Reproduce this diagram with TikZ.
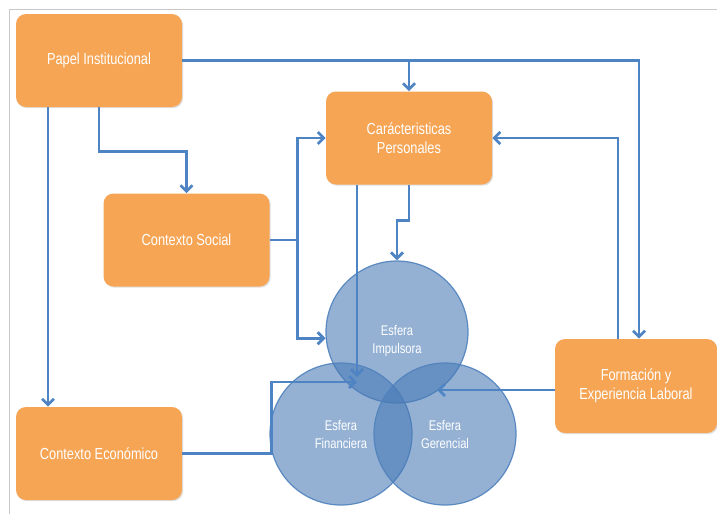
\documentclass[tikz,border=0pt]{standalone}
\usepackage{fontspec}
\setmainfont{Liberation Sans}[FakeStretch=0.8]
\usetikzlibrary{arrows.meta,calc,shadows}
\definecolor{boxorange}{RGB}{246,165,85}
\definecolor{linkblue}{RGB}{79,132,196}
\definecolor{spherefill}{RGB}{72,122,182}
\definecolor{spheredraw}{RGB}{80,130,190}
\definecolor{framegray}{RGB}{200,200,200}

\begin{document}
\begin{tikzpicture}[x=0.75pt,y=-0.75pt,
  box/.style={fill=boxorange, rounded corners=7.5pt, minimum width=124.5pt,
    minimum height=69.75pt, text=white, font=\fontsize{12}{14}\selectfont,
    align=center, inner sep=0pt,
    drop shadow={shadow xshift=0.8pt, shadow yshift=-0.9pt, opacity=0.25}},
  sphere/.style={circle, minimum size=106.5pt, inner sep=0pt, fill=spherefill,
    fill opacity=0.58, draw=spheredraw, draw opacity=0.9, line width=0.9pt},
  spheretext/.style={text=white, font=\fontsize{10.5}{13.5}\selectfont, align=center},
  link/.style={draw=linkblue, line width=2.1pt, line join=miter,
    -{Straight Barb[length=4.5pt,width=9pt]}}
]
% canvas and frame
\fill[white] (0,0) rectangle (717,514);
\useasboundingbox (0,0) rectangle (717,514);
\draw[framegray, line width=0.75pt] (9,514) -- (9,9) -- (717,9);

% the three spheres
\node[sphere] (imp) at (397,332) {};
\node[sphere] (fin) at (341,434) {};
\node[sphere] (ger) at (445,434) {};
\node[spheretext] (impt) at (397,341) {Esfera\\Impulsora};
\node[spheretext] (fint) at (341,434) {Esfera\\Financiera};
\node[spheretext] (gert) at (445,434) {Esfera\\Gerencial};

% factor boxes
\node[box] (papel) at (99,60.5) {Papel Institucional};
\node[box] (social) at (186.5,240) {Contexto Social};
\node[box] (cara) at (409,138) {Carácteristicas\\Personales};
\node[box] (eco) at (99,453.5) {Contexto Económico};
\node[box, minimum width=121.5pt, minimum height=70.5pt] (form) at (636,386) {Formación y\\Experiencia Laboral};

% free arrow ends inside the spheres
\coordinate (meetV) at (357,377);
\coordinate (meetH) at (357,382);
\coordinate (gerTip) at (437,390);

% connectors
\draw[link] (papel.east) -| ($(form.north)+(3,0)$);
\draw[link] (cara.north |- papel.east) -- (cara.north);
\draw[link] (papel.south) -- ++(0,44) -| (social.north);
\draw[link] ($(papel.south)+(-51,0)$) -- ($(eco.north)+(-51,0)$);
\draw[link] (social.east) -- ++(28,0) |- (cara.west);
\draw[link] (social.east) -- ++(28,0) |- (imp.185);
\draw[link] (cara.south) -- ++(0,36) -| (imp.north);
\draw[link] (cara.south -| meetV) -- (meetV);
\draw[link] (eco.east) -- ++(89,0) |- (meetH);
\draw[link] ($(form.north)+(-18,0)$) |- (cara.east);
\draw[link] ($(form.west)+(0,4)$) -- (gerTip);
\end{tikzpicture}
\end{document}
